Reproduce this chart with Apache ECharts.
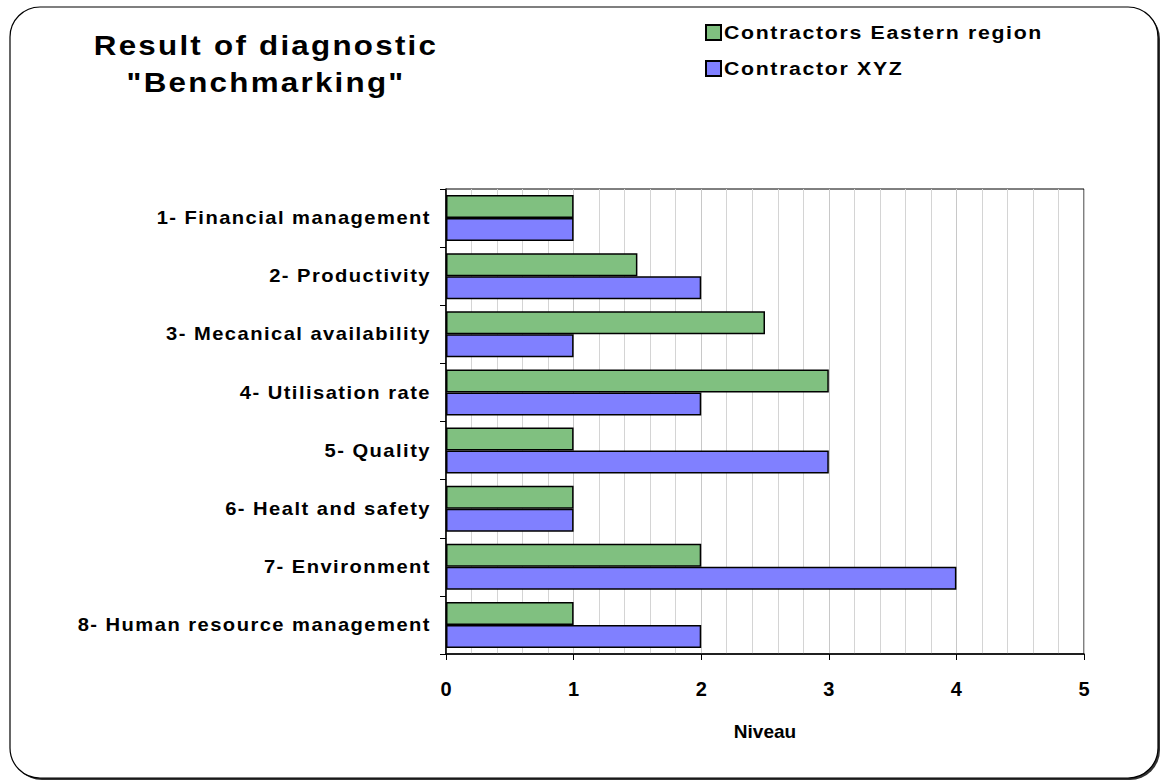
<!DOCTYPE html>
<html><head><meta charset="utf-8">
<script src="https://cdn.jsdelivr.net/npm/echarts@6/dist/echarts.min.js"></script>
<style>html,body{margin:0;padding:0;background:#fff}#c{width:1161px;height:783px}</style>
</head><body><div id="c"></div>
<script>
const categories = ["1- Financial management","2- Productivity","3- Mecanical availability","4- Utilisation rate","5- Quality","6- Healt and safety","7- Environment","8- Human resource management"];
const easternRegion = [1, 1.5, 2.5, 3, 1, 1, 2, 1];
const contractorXYZ = [1, 2, 1, 2, 3, 1, 4, 2];
const xTicks = [0, 1, 2, 3, 4, 5];

const chart = echarts.init(document.getElementById('c'), null, {renderer: 'svg'});
const font = '"Liberation Sans", Arial, sans-serif';
const narrow = '"Liberation Sans Narrow", "Liberation Sans", Arial, sans-serif';
chart.setOption({
  animation: false,
  graphic: [{
    type: 'rect', shape: {x: 12, y: 9, width: 1148, height: 771, r: 30},
    style: {fill: '#333', stroke: null}, z: -11
  }, {
    type: 'rect', shape: {x: 10, y: 7, width: 1148, height: 771, r: 30},
    style: {fill: '#fff', stroke: '#000', lineWidth: 1.2}, z: -10
  }],
  title: {
    text: 'Result of diagnostic\n"Benchmarking"',
    left: 261, top: 22, textAlign: 'center',
    textStyle: {fontFamily: font, fontSize: 28, fontWeight: 'bold', color: '#000', lineHeight: 37}
  },
  legend: {
    orient: 'vertical', left: 700, top: 18, itemGap: 17,
    itemWidth: 15, itemHeight: 15, icon: 'rect',
    textStyle: {fontFamily: font, fontSize: 19, fontWeight: 'bold', color: '#000', padding: [0,0,0,-2]},
    data: ['Contractors Eastern region', 'Contractor XYZ']
  },
  grid: {left: 446, right: 77, top: 189, bottom: 129, show: true, borderColor: '#000', borderWidth: 1},
  xAxis: {
    type: 'value', min: 0, max: 5, interval: 1,
    name: 'Niveau', nameLocation: 'middle', nameGap: 68,
    nameTextStyle: {fontFamily: narrow, fontSize: 19, fontWeight: 'bold', color: '#000'},
    axisLine: {show: true, lineStyle: {color: '#000', width: 1.5}},
    axisTick: {show: true, length: 6, lineStyle: {color: '#000'}},
    axisLabel: {fontFamily: narrow, fontSize: 20, fontWeight: 'bold', color: '#000', margin: 25,
      formatter: v => xTicks.includes(v) ? String(v) : ''},
    splitLine: {show: true, lineStyle: {color: '#c8c8c8', width: 1}},
    minorTick: {show: false, splitNumber: 5},
    minorSplitLine: {show: true, lineStyle: {color: '#d4d4d4', width: 1}}
  },
  yAxis: {
    type: 'category', data: categories, inverse: true,
    axisLine: {show: true, lineStyle: {color: '#000', width: 1.5}},
    axisTick: {show: true, length: 6, lineStyle: {color: '#000'}},
    axisLabel: {fontFamily: font, fontSize: 18, fontWeight: 'bold', color: '#000', margin: 15},
    splitLine: {show: false}
  },
  series: [
    {name: 'Contractors Eastern region', type: 'bar', data: easternRegion,
      barWidth: 23, barGap: '0%',
      itemStyle: {color: '#80c080', borderColor: '#000', borderWidth: 1.5}},
    {name: 'Contractor XYZ', type: 'bar', data: contractorXYZ,
      barWidth: 23,
      itemStyle: {color: '#8080ff', borderColor: '#000', borderWidth: 1.5}}
  ]
});

// widen lettering like the original (stretched GDI-style text)
function widenText() {
  document.querySelectorAll('#c svg text').forEach(t => {
    const cs = getComputedStyle(t);
    const fs = parseFloat(cs.fontSize);
    if (/Narrow/.test(cs.fontFamily)) return;
    let ls = 0, k = 1;
    if (fs >= 27) { ls = 2; k = 1.12; }
    else if (fs === 19) { ls = 1.5; k = 1.12; }
    else if (fs === 18) { ls = 1.3; k = 1.12; }
    if (k === 1) return;
    const cur = t.getAttribute('transform') || '';
    if (t.__applied !== undefined && cur === t.__applied) return;
    t.style.letterSpacing = ls + 'px';
    const x = parseFloat(t.getAttribute('x') || 0);
    const nt = (cur ? cur + ' ' : '') + 'translate(' + x + ' 0) scale(' + k + ' 1) translate(' + (-x) + ' 0)';
    t.setAttribute('transform', nt);
    t.__applied = nt;
  });
}
widenText();
chart.on('finished', widenText);
</script></body></html>
